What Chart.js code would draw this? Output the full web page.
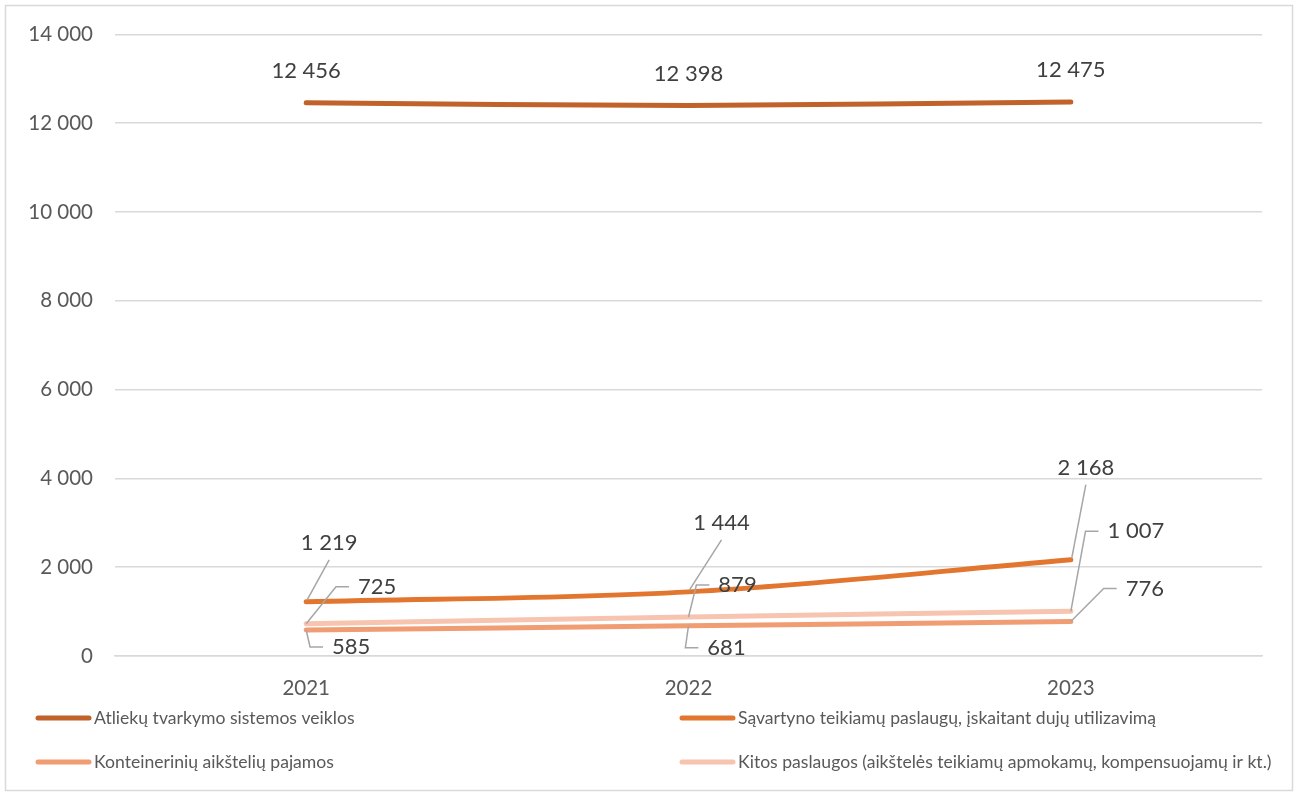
<!DOCTYPE html>
<html lang="lt">
<head>
<meta charset="utf-8">
<script src="https://cdn.jsdelivr.net/npm/chart.js@4.4.1/dist/chart.umd.min.js"></script>
<style>
  html, body { margin: 0; padding: 0; background: #fff; }
  #wrap { width: 1298px; height: 796px; }
</style>
</head>
<body>
<div id="wrap"><canvas id="revenueChart" width="1298" height="796"></canvas></div>
<script>
// Data
const years = ["2021", "2022", "2023"]
const sistemosVeiklos = [12456, 12398, 12475]
const savartynoPaslaugos = [1219, 1444, 2168]
const konteineriuPajamos = [585, 681, 776]
const kitosPaslaugos = [725, 879, 1007]
const seriesNames = [
  "Atliekų tvarkymo sistemos veiklos",
  "Sąvartyno teikiamų paslaugų, įskaitant dujų utilizavimą",
  "Konteinerinių aikštelių pajamos",
  "Kitos paslaugos (aikštelės teikiamų apmokamų, kompensuojamų ir kt.)"
]
const yMin = 0
const yMax = 14000
const yStep = 2000

// Styling
const colors = ["#C0622A", "#E2762F", "#F19D74", "#F7C4B0"]
const fontFamily = "Lato, 'Open Sans', sans-serif"
const gridColor = "#d9d9d9"
const leaderColor = "#a6a6a6"

// label offsets from the point (label centre), and the kind of leader line
const labelStyle = [
  { leader: "none", offsets: [[0, -32], [0, -32], [0, -32]] },
  { leader: "up",   offsets: [[23, -59], [33, -69], [15, -92]] },
  { leader: "side", offsets: [[45, 17], [38, 22], [74, -33]] },
  { leader: "side", offsets: [[71, -37], [49, -32], [65, -80]] }
]

const fmt = v => String(v).replace(/\B(?=(\d{3})+(?!\d))/g, " ")

const frame = {
  id: "frame",
  beforeDraw(chart) {
    const ctx = chart.ctx
    ctx.save()
    ctx.strokeStyle = gridColor
    ctx.lineWidth = 1.5
    ctx.strokeRect(5.5, 5.5, chart.width - 11, chart.height - 11)
    ctx.restore()
  }
}

const dataLabels = {
  id: "dataLabels",
  afterDatasetsDraw(chart) {
    const ctx = chart.ctx
    ctx.save()
    ctx.font = `22px ${fontFamily}`
    ctx.textAlign = "center"
    ctx.textBaseline = "middle"
    chart.data.datasets.forEach((ds, i) => {
      const meta = chart.getDatasetMeta(i)
      const style = labelStyle[i]
      meta.data.forEach((pt, j) => {
        const [dx, dy] = style.offsets[j]
        const cx = pt.x + dx
        const cy = pt.y + dy
        const text = fmt(ds.data[j])
        const w = ctx.measureText(text).width

        ctx.strokeStyle = leaderColor
        ctx.lineWidth = 1.5
        if (style.leader === "up") {
          ctx.beginPath()
          ctx.moveTo(pt.x + 1, pt.y - 2)
          ctx.lineTo(cx, cy + 17)
          ctx.stroke()
        } else if (style.leader === "side") {
          const left = cx - w / 2
          ctx.beginPath()
          ctx.moveTo(pt.x, pt.y)
          ctx.lineTo(left - 22, cy)
          ctx.lineTo(left - 9, cy)
          ctx.stroke()
        }
        ctx.fillStyle = "#404040"
        ctx.fillText(text, cx, cy)
      })
    })
    ctx.restore()
  }
}

const bottomLegend = {
  id: "bottomLegend",
  afterDraw(chart) {
    const ctx = chart.ctx
    const cols = [35, 679]
    const rows = [718, 762]
    ctx.save()
    ctx.font = `17.6px ${fontFamily}`
    ctx.textBaseline = "middle"
    ctx.textAlign = "left"
    chart.data.datasets.forEach((ds, i) => {
      const x = cols[i % 2]
      const y = rows[Math.floor(i / 2)]
      ctx.strokeStyle = ds.borderColor
      ctx.lineWidth = 5
      ctx.lineCap = "round"
      ctx.beginPath()
      ctx.moveTo(x + 3, y)
      ctx.lineTo(x + 54, y)
      ctx.stroke()
      ctx.fillStyle = "#595959"
      ctx.fillText(ds.label, x + 59, y)
    })
    ctx.restore()
  }
}

const series = [sistemosVeiklos, savartynoPaslaugos, konteineriuPajamos, kitosPaslaugos]

new Chart(document.getElementById("revenueChart"), {
  type: "line",
  data: {
    labels: years,
    datasets: series.map((values, i) => ({
      label: seriesNames[i],
      data: values,
      borderColor: colors[i],
      backgroundColor: colors[i],
      borderWidth: 5,
      borderCapStyle: "round",
      tension: 0.35,
      pointRadius: 0,
      fill: false
    }))
  },
  options: {
    responsive: false,
    animation: false,
    devicePixelRatio: 1,
    layout: {
      padding: { left: 5, right: 36, top: 34, bottom: 90 }
    },
    plugins: {
      legend: { display: false },
      tooltip: { enabled: false }
    },
    scales: {
      x: {
        offset: true,
        grid: { display: false, drawTicks: false },
        border: { color: gridColor, width: 1.5 },
        ticks: {
          color: "#595959",
          font: { family: fontFamily, size: 20.5 },
          padding: 20
        },
        afterFit: s => { s.height = 50 }
      },
      y: {
        min: yMin,
        max: yMax,
        grid: { color: gridColor, lineWidth: 1.5, drawTicks: false },
        border: { display: false },
        ticks: {
          stepSize: yStep,
          color: "#595959",
          font: { family: fontFamily, size: 20.5 },
          padding: 22,
          callback: v => fmt(v)
        },
        afterFit: s => { s.width = 110 }
      }
    }
  },
  plugins: [frame, dataLabels, bottomLegend]
})
</script>
</body>
</html>
